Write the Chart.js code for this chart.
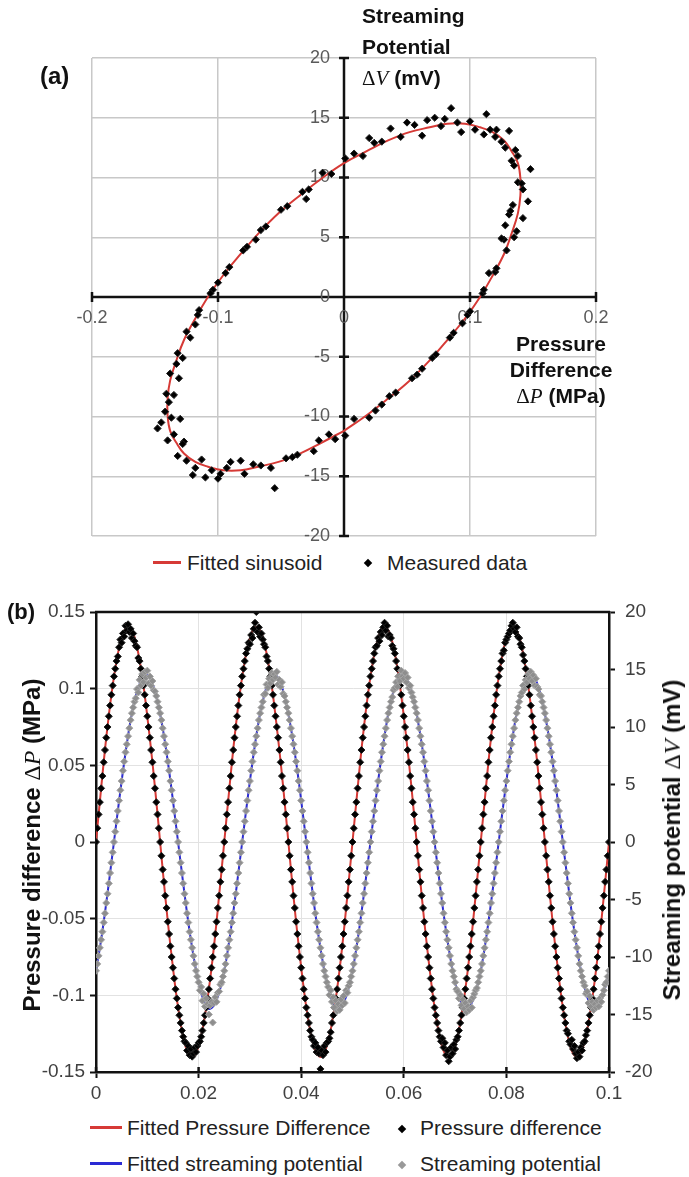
<!DOCTYPE html>
<html>
<head>
<meta charset="utf-8">
<script src="https://cdn.jsdelivr.net/npm/chart.js@4.4.1/dist/chart.umd.min.js"></script>
<style>
  body { margin: 0; background: #fff; }
  #page { position: relative; width: 689px; height: 1177px; overflow: hidden; font-family: "Liberation Sans", Arial, sans-serif; color: #111; }
  canvas { position: absolute; left: 0; }
  .t { position: absolute; white-space: nowrap; }
  .b { font-weight: bold; }
  .m { font-family: "Liberation Serif", "DejaVu Serif", serif; font-weight: normal; }
  .rot { transform: translate(-50%, -50%) rotate(-90deg); }
  .ln { position: absolute; height: 3px; width: 32px; }
  .dm { position: absolute; width: 6px; height: 6px; transform: rotate(45deg); }
  .leg { font-size: 21px; line-height: 24px; color: #222; }
</style>
</head>
<body>
<div id="page">
  <canvas id="loop" width="689" height="545" style="top:0"></canvas>
  <canvas id="wave" width="689" height="520" style="top:590px"></canvas>

  <div class="t b" style="left:40px;top:62px;font-size:24px;line-height:28px">(a)</div>
  <div class="t b" style="left:362px;top:0;font-size:21px;line-height:31px">Streaming<br>Potential<br><span class="m">&Delta;<i>V</i></span> (mV)</div>
  <div class="t b" style="left:461px;top:331px;width:200px;text-align:center;font-size:21px;line-height:26px">Pressure<br>Difference<br><span class="m">&Delta;<i>P</i></span> (MPa)</div>

  <div class="ln" style="left:153px;top:561px;width:28px;background:#d63a36"></div>
  <div class="t leg" style="left:187px;top:551px">Fitted sinusoid</div>
  <div class="dm" style="left:365px;top:560px;background:#000"></div>
  <div class="t leg" style="left:387px;top:551px">Measured data</div>

  <div class="t b" style="left:7px;top:599px;font-size:22px;line-height:26px">(b)</div>
  <div class="t b rot" style="left:32px;top:845px;font-size:24px">Pressure difference <span class="m">&Delta;<i>P</i></span> (MPa)</div>
  <div class="t b rot" style="left:672px;top:840px;font-size:24px">Streaming potential <span class="m">&Delta;<i>V</i></span> (mV)</div>

  <div class="ln" style="left:90px;top:1126px;background:#d63a36"></div>
  <div class="t leg" style="left:127px;top:1116px">Fitted Pressure Difference</div>
  <div class="dm" style="left:399px;top:1126px;background:#000"></div>
  <div class="t leg" style="left:420px;top:1116px">Pressure difference</div>
  <div class="ln" style="left:90px;top:1162px;background:#2a2ad4"></div>
  <div class="t leg" style="left:127px;top:1152px">Fitted streaming potential</div>
  <div class="dm" style="left:399px;top:1162px;background:#999"></div>
  <div class="t leg" style="left:420px;top:1152px">Streaming potential</div>
</div>

<script>
// (a) measured loop: pressure difference (MPa) vs streaming potential (mV)
var loopP = [
  0.001, 0.008, 0.020, 0.025, 0.036, 0.041, 0.054, 0.058, 0.070, 0.073,
  0.084, 0.087, 0.098, 0.100, 0.110, 0.111, 0.120, 0.121, 0.129, 0.127,
  0.135, 0.131, 0.142, 0.134, 0.146, 0.138, 0.141, 0.135, 0.148, 0.133,
  0.136, 0.128, 0.131, 0.120, 0.121, 0.111, 0.113, 0.104, 0.093, 0.085,
  0.080, 0.077, 0.066, 0.062, 0.050, 0.045, 0.037, 0.024, 0.020, 0.008,
  0.001, -0.010, -0.017, -0.028, -0.033, -0.045, -0.050, -0.062, -0.066, -0.077,
  -0.080, -0.091, -0.094, -0.104, -0.106, -0.115, -0.116, -0.125, -0.122, -0.132,
  -0.128, -0.138, -0.131, -0.141, -0.135, -0.142, -0.137, -0.148, -0.135, -0.140,
  -0.127, -0.132, -0.120, -0.125, -0.113, -0.118, -0.105, -0.100, -0.098, -0.090,
  -0.082, -0.079, -0.066, -0.058, -0.055, -0.041, -0.037, -0.024, -0.020, -0.007,
  0.015, 0.030, 0.056, 0.072, 0.090, 0.100, 0.116, 0.125, 0.138, 0.142,
  0.128, 0.132, 0.137, 0.125, 0.115, 0.094, 0.062, 0.030, -0.030, -0.070,
  -0.100, -0.118, -0.133, -0.139, -0.130, -0.145, -0.128, -0.110, -0.093, -0.072,
  -0.046, -0.012
];
var loopV = [
  -11.6, -10.2, -10.1, -9.5, -8.3, -8.0, -6.8, -6.5, -5.1, -4.8,
  -3.4, -3.0, -1.5, -1.2, 0.3, 0.6, 2.1, 2.4, 3.9, 4.8,
  5.0, 6.9, 6.6, 7.7, 8.0, 9.6, 9.5, 11.0, 10.7, 11.4,
  12.3, 12.5, 13.9, 13.4, 14.0, 13.6, 15.3, 14.0, 13.8, 15.8,
  14.9, 14.3, 14.8, 13.5, 14.6, 13.4, 14.1, 12.9, 13.3, 12.0,
  11.6, 10.3, 10.4, 9.0, 8.8, 7.6, 7.3, 5.9, 5.6, 4.2,
  3.9, 2.5, 2.0, 0.6, 0.3, -1.1, -1.5, -2.9, -3.4, -4.7,
  -5.1, -6.4, -6.8, -8.1, -8.2, -9.6, -10.1, -11.0, -11.5, -12.0,
  -12.1, -13.3, -14.9, -13.7, -13.6, -14.3, -14.5, -15.2, -14.8, -13.8,
  -13.7, -14.8, -14.1, -14.3, -16.0, -13.4, -13.2, -12.9, -12.0, -11.9,
  11.8, 13.0, 14.4, 15.0, 14.6, 14.7, 14.0, 13.0, 11.8, 9.0,
  6.0, 7.2, 5.5, 4.9, 2.0, -2.2, -6.0, -9.0, 8.2, 4.8,
  1.2, -2.3, -5.6, -8.8, -10.2, -10.5, -12.3, -15.1, -14.3, -14.0,
  -13.5, -11.5
];

// (a) fitted sinusoid loop
var fitLoopP = [
  0, 0.018, 0.035, 0.052, 0.068, 0.082, 0.096, 0.108, 0.118, 0.127, 0.133, 0.138, 0.140,
  0.140, 0.138, 0.133, 0.127, 0.118, 0.108, 0.096, 0.082, 0.068, 0.052, 0.035, 0.018, 0,
  -0.018, -0.035, -0.052, -0.068, -0.082, -0.096, -0.108, -0.118, -0.127, -0.133, -0.138, -0.140,
  -0.140, -0.138, -0.133, -0.127, -0.118, -0.108, -0.096, -0.082, -0.068, -0.052, -0.035, -0.018, 0
];
var fitLoopV = [
  -11.2, -9.9, -8.5, -7.0, -5.3, -3.6, -1.8, 0, 1.8, 3.6, 5.3, 7.0, 8.5,
  9.9, 11.2, 12.2, 13.1, 13.8, 14.2, 14.5, 14.5, 14.2, 13.8, 13.1, 12.2, 11.2,
  9.9, 8.5, 7.0, 5.3, 3.6, 1.8, 0, -1.8, -3.6, -5.3, -7.0, -8.5,
  -9.9, -11.2, -12.2, -13.1, -13.8, -14.2, -14.5, -14.5, -14.2, -13.8, -13.1, -12.2, -11.2
];

// (b) time series, one sample every 0.25 ms
var sampleStep = 0.00025;   // s
var measP = [
  0, .009, .018, .026, .035, .043, .052, .060, .068, .075, .082, .089, .096, .102, .108, .113, .118, .121, .127, .132, .130, .136, .134, .141, .138, .142,
  .137, .139, .133, .136, .131, .128, .127, .120, .118, .113, .108, .102, .096, .089, .082, .075, .068, .060, .052, .043, .035, .026, .018, .009,
  0, -.009, -.018, -.026, -.035, -.043, -.052, -.060, -.068, -.075, -.082, -.089, -.096, -.102, -.108, -.113, -.118, -.123, -.127, -.130, -.131, -.136, -.133, -.139, -.135, -.140,
  -.138, -.134, -.137, -.133, -.131, -.130, -.127, -.123, -.118, -.113, -.108, -.102, -.096, -.089, -.082, -.075, -.068, -.060, -.052, -.043, -.035, -.026, -.018, -.009,
  0, .009, .018, .026, .035, .043, .052, .060, .068, .075, .082, .089, .096, .102, .108, .113, .118, .123, .126, .130, .129, .135, .133, .139, .143, .150,
  .137, .140, .134, .136, .132, .129, .127, .121, .118, .113, .108, .102, .096, .089, .082, .075, .068, .060, .052, .043, .035, .026, .018, .009,
  0, -.009, -.018, -.026, -.035, -.043, -.052, -.060, -.068, -.075, -.082, -.089, -.096, -.102, -.108, -.113, -.118, -.123, -.127, -.129, -.133, -.131, -.137, -.134, -.138, -.148,
  -.136, -.139, -.133, -.137, -.131, -.130, -.128, -.124, -.118, -.113, -.108, -.102, -.096, -.089, -.082, -.075, -.068, -.060, -.052, -.043, -.035, -.026, -.018, -.009,
  0, .009, .018, .026, .035, .043, .052, .060, .068, .075, .082, .089, .096, .102, .108, .113, .118, .123, .127, .128, .133, .131, .137, .135, .140, .143,
  .138, .141, .134, .135, .133, .128, .126, .123, .118, .113, .108, .102, .096, .089, .082, .075, .068, .060, .052, .043, .035, .026, .018, .009,
  0, -.009, -.018, -.026, -.035, -.043, -.052, -.060, -.068, -.075, -.082, -.089, -.096, -.102, -.108, -.113, -.118, -.123, -.127, -.130, -.128, -.134, -.131, -.139, -.136, -.143,
  -.140, -.134, -.138, -.132, -.135, -.129, -.127, -.123, -.118, -.113, -.108, -.102, -.096, -.089, -.082, -.075, -.068, -.060, -.052, -.043, -.035, -.026, -.018, -.009,
  0, .009, .018, .026, .035, .043, .052, .060, .068, .075, .082, .089, .096, .102, .108, .113, .118, .123, .125, .130, .132, .134, .136, .138, .141, .143,
  .139, .137, .140, .134, .133, .129, .127, .122, .118, .113, .108, .102, .096, .089, .082, .075, .068, .060, .052, .043, .035, .026, .018, .009,
  0, -.009, -.018, -.026, -.035, -.043, -.052, -.060, -.068, -.075, -.082, -.089, -.096, -.102, -.108, -.113, -.118, -.123, -.125, -.130, -.132, -.129, -.135, -.133, -.138, -.141,
  -.137, -.140, -.134, -.136, -.131, -.130, -.126, -.123, -.118, -.113, -.108, -.102, -.096, -.089, -.082, -.075, -.068, -.060, -.052, -.043, -.035, -.026, -.018, -.009,
  0
];
var measV = [
  -11.2, -10.6, -9.9, -9.2, -8.5, -7.8, -7.0, -6.2, -5.3, -4.5, -3.6, -2.7, -1.8, -0.9,
  0, 0.9, 1.8, 2.7, 3.6, 4.5, 5.3, 6.2, 7.0, 7.8, 8.5, 9.2, 9.9, 10.6, 11.2, 11.7, 12.2, 12.5, 13.3, 13.0, 14.1, 13.6, 14.6, 13.9, 14.8, 14.3,
  14.9, 13.8, 14.4, 13.6, 14.0, 13.2, 13.1, 12.7, 12.2, 11.7, 11.2, 10.6, 9.9, 9.2, 8.5, 7.8, 7.0, 6.2, 5.3, 4.5, 3.6, 2.7, 1.8, 0.9,
  0, -0.9, -1.8, -2.7, -3.6, -4.5, -5.3, -6.2, -7.0, -7.8, -8.5, -9.2, -9.9, -10.6, -11.2, -11.7, -12.2, -12.9, -12.6, -13.8, -13.2, -14.3, -13.6, -14.1, -15.0, -14.2,
  -13.9, -15.7, -14.0, -13.5, -13.9, -13.1, -13.0, -12.4, -12.2, -11.7, -11.2, -10.6, -9.9, -9.2, -8.5, -7.8, -7.0, -6.2, -5.3, -4.5, -3.6, -2.7, -1.8, -0.9,
  0, 0.9, 1.8, 2.7, 3.6, 4.5, 5.3, 6.2, 7.0, 7.8, 8.5, 9.2, 9.9, 10.6, 11.2, 11.7, 12.2, 12.8, 12.9, 13.7, 13.4, 14.2, 13.8, 14.7, 14.1, 14.6,
  14.3, 14.8, 13.7, 14.1, 13.5, 13.9, 12.9, 12.7, 12.2, 11.7, 11.2, 10.6, 9.9, 9.2, 8.5, 7.8, 7.0, 6.2, 5.3, 4.5, 3.6, 2.7, 1.8, 0.9,
  0, -0.9, -1.8, -2.7, -3.6, -4.5, -5.3, -6.2, -7.0, -7.8, -8.5, -9.2, -9.9, -10.6, -11.2, -11.7, -12.2, -12.6, -13.3, -12.9, -13.9, -13.5, -14.4, -13.8, -14.7, -14.1,
  -14.6, -13.7, -14.2, -13.4, -14.0, -12.9, -13.1, -12.5, -12.2, -11.7, -11.2, -10.6, -9.9, -9.2, -8.5, -7.8, -7.0, -6.2, -5.3, -4.5, -3.6, -2.7, -1.8, -0.9,
  0, 0.9, 1.8, 2.7, 3.6, 4.5, 5.3, 6.2, 7.0, 7.8, 8.5, 9.2, 9.9, 10.6, 11.2, 11.7, 12.2, 12.6, 13.2, 13.4, 13.9, 13.5, 14.4, 14.0, 14.9, 14.4,
  14.2, 14.7, 13.9, 14.3, 13.4, 13.6, 13.0, 12.6, 12.2, 11.7, 11.2, 10.6, 9.9, 9.2, 8.5, 7.8, 7.0, 6.2, 5.3, 4.5, 3.6, 2.7, 1.8, 0.9,
  0, -0.9, -1.8, -2.7, -3.6, -4.5, -5.3, -6.2, -7.0, -7.8, -8.5, -9.2, -9.9, -10.6, -11.2, -11.7, -12.2, -12.8, -13.0, -13.6, -13.3, -14.2, -13.7, -14.5, -14.0, -14.8,
  -14.3, -14.6, -13.8, -14.4, -13.5, -13.2, -12.9, -12.7, -12.2, -11.7, -11.2, -10.6, -9.9, -9.2, -8.5, -7.8, -7.0, -6.2, -5.3, -4.5, -3.6, -2.7, -1.8, -0.9,
  0, 0.9, 1.8, 2.7, 3.6, 4.5, 5.3, 6.2, 7.0, 7.8, 8.5, 9.2, 9.9, 10.6, 11.2, 11.7, 12.2, 12.7, 13.0, 13.6, 13.3, 14.1, 13.9, 14.6, 14.2, 14.8,
  14.0, 14.5, 13.6, 14.2, 13.5, 13.3, 12.8, 12.7, 12.2, 11.7, 11.2, 10.6, 9.9, 9.2, 8.5, 7.8, 7.0, 6.2, 5.3, 4.5, 3.6, 2.7, 1.8, 0.9,
  0, -0.9, -1.8, -2.7, -3.6, -4.5, -5.3, -6.2, -7.0, -7.8, -8.5, -9.2, -9.9, -10.6, -11.2, -11.7, -12.2, -12.5, -13.2, -13.0, -14.0, -13.4, -14.3, -13.9, -14.6, -14.1,
  -14.4, -13.8, -14.3, -13.6, -13.9, -13.3, -12.9, -12.4, -12.2, -11.7, -11.2
];

// (b) fitted curves, one point every 1 ms
var fitStep = 0.001;   // s
var fitP = [
  0, .035, .068, .096, .118, .133, .140, .138, .127, .108, .082, .052, .018, -.018, -.052, -.082, -.108, -.127, -.138, -.140, -.133, -.118, -.096, -.068, -.035,
  0, .035, .068, .096, .118, .133, .140, .138, .127, .108, .082, .052, .018, -.018, -.052, -.082, -.108, -.127, -.138, -.140, -.133, -.118, -.096, -.068, -.035,
  0, .035, .068, .096, .118, .133, .140, .138, .127, .108, .082, .052, .018, -.018, -.052, -.082, -.108, -.127, -.138, -.140, -.133, -.118, -.096, -.068, -.035,
  0, .035, .068, .096, .118, .133, .140, .138, .127, .108, .082, .052, .018, -.018, -.052, -.082, -.108, -.127, -.138, -.140, -.133, -.118, -.096, -.068, -.035,
  0
];
var fitV = [
  -11.2, -8.5, -5.3, -1.8, 1.8, 5.3, 8.5, 11.2, 13.1, 14.2, 14.5, 13.8, 12.2, 9.9, 7.0, 3.6, 0, -3.6, -7.0, -9.9, -12.2, -13.8, -14.5, -14.2, -13.1,
  -11.2, -8.5, -5.3, -1.8, 1.8, 5.3, 8.5, 11.2, 13.1, 14.2, 14.5, 13.8, 12.2, 9.9, 7.0, 3.6, 0, -3.6, -7.0, -9.9, -12.2, -13.8, -14.5, -14.2, -13.1,
  -11.2, -8.5, -5.3, -1.8, 1.8, 5.3, 8.5, 11.2, 13.1, 14.2, 14.5, 13.8, 12.2, 9.9, 7.0, 3.6, 0, -3.6, -7.0, -9.9, -12.2, -13.8, -14.5, -14.2, -13.1,
  -11.2, -8.5, -5.3, -1.8, 1.8, 5.3, 8.5, 11.2, 13.1, 14.2, 14.5, 13.8, 12.2, 9.9, 7.0, 3.6, 0, -3.6, -7.0, -9.9, -12.2, -13.8, -14.5, -14.2, -13.1,
  -11.2
];

var FONT = '"Liberation Sans", Arial, sans-serif';
Chart.defaults.font.family = FONT;

function pairs(xs, ys) {
  return xs.map(function(x, i) { return {x: x, y: ys[i]}; });
}
function timed(ys, step) {
  return ys.map(function(y, i) { return {x: i * step, y: y}; });
}
function fmt(v) { return String(+v.toFixed(2)); }

//black crossing axes through the origin, with ticks and labels, for panel (a)
var loopAxes = {
  id: 'loopAxes',
  beforeDatasetsDraw: function(chart) {
    var ctx = chart.ctx, a = chart.chartArea, x = chart.scales.x, y = chart.scales.y;
    var x0 = x.getPixelForValue(0), y0 = y.getPixelForValue(0);
    ctx.save();
    ctx.strokeStyle = '#111';
    ctx.lineWidth = 2.5;
    ctx.beginPath();
    ctx.moveTo(a.left, y0); ctx.lineTo(a.right, y0);
    ctx.moveTo(x0, a.top); ctx.lineTo(x0, a.bottom);
    x.ticks.forEach(function(t) {
      var px = x.getPixelForValue(t.value);
      ctx.moveTo(px, y0 - 5); ctx.lineTo(px, y0 + 5);
    });
    y.ticks.forEach(function(t) {
      var py = y.getPixelForValue(t.value);
      ctx.moveTo(x0 - 5, py); ctx.lineTo(x0 + 5, py);
    });
    ctx.stroke();
    ctx.fillStyle = '#5a5a5a';
    ctx.font = '18px ' + FONT;
    ctx.textAlign = 'center';
    ctx.textBaseline = 'middle';
    x.ticks.forEach(function(t) { ctx.fillText(fmt(t.value), x.getPixelForValue(t.value), y0 + 21); });
    ctx.textAlign = 'right';
    y.ticks.forEach(function(t) { ctx.fillText(fmt(t.value), x0 - 14, y.getPixelForValue(t.value)); });
    ctx.restore();
  }
};

//top frame line and the inner half of the bottom ticks for panel (b)
var waveFrame = {
  id: 'waveFrame',
  afterDraw: function(chart) {
    var ctx = chart.ctx, a = chart.chartArea, x = chart.scales.x;
    ctx.save();
    ctx.strokeStyle = '#111';
    ctx.lineWidth = 2.5;
    ctx.beginPath();
    ctx.moveTo(a.left - 1, a.top); ctx.lineTo(a.right + 1, a.top);
    x.ticks.forEach(function(t) {
      var px = x.getPixelForValue(t.value);
      ctx.moveTo(px, a.bottom); ctx.lineTo(px, a.bottom - 5);
    });
    ctx.stroke();
    ctx.restore();
  }
};

new Chart(document.getElementById('loop'), {
  type: 'scatter',
  data: {
    datasets: [
      { label: 'Measured data', data: pairs(loopP, loopV), pointStyle: 'rectRot', pointRadius: 3.6,
        backgroundColor: '#000', borderColor: '#222', borderWidth: 1 },
      { label: 'Fitted sinusoid', data: pairs(fitLoopP, fitLoopV), showLine: true, pointRadius: 0,
        borderColor: '#d63a36', borderWidth: 2, tension: 0.4 }
    ]
  },
  options: {
    responsive: false, animation: false, events: [],
    layout: { padding: { left: 92, right: 93, top: 58, bottom: 9 } },
    plugins: { legend: { display: false }, tooltip: { enabled: false } },
    scales: {
      x: { type: 'linear', min: -0.2, max: 0.2,
           ticks: { display: false, stepSize: 0.1 },
           grid: { color: '#c8c8c8', lineWidth: 1.5, drawTicks: false }, border: { display: false } },
      y: { type: 'linear', min: -20, max: 20,
           ticks: { display: false, stepSize: 5 },
           grid: { color: '#c8c8c8', lineWidth: 1.5, drawTicks: false }, border: { display: false } }
    }
  },
  plugins: [loopAxes]
});

var tickFont = { size: 19, family: FONT };
new Chart(document.getElementById('wave'), {
  type: 'scatter',
  data: {
    datasets: [
      { label: 'Streaming potential', data: timed(measV, sampleStep), yAxisID: 'y2', pointStyle: 'rectRot',
        pointRadius: 3.5, backgroundColor: '#8e8e8e', borderColor: '#a6a6a6', borderWidth: 1 },
      { label: 'Pressure difference', data: timed(measP, sampleStep), yAxisID: 'y', pointStyle: 'rectRot',
        pointRadius: 3.5, backgroundColor: '#000', borderColor: '#222', borderWidth: 1 },
      { label: 'Fitted Pressure Difference', data: timed(fitP, fitStep), yAxisID: 'y', showLine: true,
        pointRadius: 0, borderColor: '#d63a36', borderWidth: 2, tension: 0.4 },
      { label: 'Fitted streaming potential', data: timed(fitV, fitStep), yAxisID: 'y2', showLine: true,
        pointRadius: 0, borderColor: '#2a2ad4', borderWidth: 2, tension: 0.4 }
    ]
  },
  options: {
    responsive: false, animation: false, events: [],
    layout: { padding: { left: 0, right: 0, top: 22, bottom: 0 } },
    plugins: { legend: { display: false }, tooltip: { enabled: false } },
    scales: {
      x: { type: 'linear', position: 'bottom', min: 0, max: 0.1,
           ticks: { stepSize: 0.02, font: tickFont, color: '#404040', padding: 4, maxRotation: 0, autoSkip: false, callback: fmt },
           grid: { color: '#e2e2e2', lineWidth: 1, tickColor: '#111', tickLength: 6, tickWidth: 2 },
           border: { color: '#111', width: 2.5 },
           afterFit: function(s) { s.height = 38; } },
      y: { type: 'linear', position: 'left', min: -0.15, max: 0.15,
           ticks: { stepSize: 0.05, font: tickFont, color: '#404040', padding: 5, callback: fmt },
           grid: { color: '#e2e2e2', lineWidth: 1, tickColor: '#111', tickLength: 6, tickWidth: 2 },
           border: { color: '#111', width: 2.5 },
           afterFit: function(s) { s.width = 96; } },
      y2: { type: 'linear', position: 'right', min: -20, max: 20,
           ticks: { stepSize: 5, font: tickFont, color: '#404040', padding: 10, callback: fmt },
           grid: { drawOnChartArea: false, tickColor: '#111', tickLength: 6, tickWidth: 2 },
           border: { color: '#111', width: 2.5 },
           afterFit: function(s) { s.width = 80; } }
    }
  },
  plugins: [waveFrame]
});
</script>
</body>
</html>
